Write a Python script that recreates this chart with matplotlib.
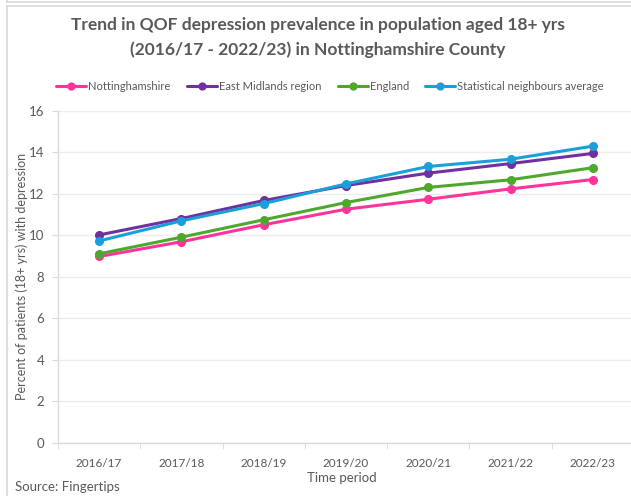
import matplotlib
matplotlib.use("Agg")
import matplotlib.pyplot as plt
from matplotlib.lines import Line2D

periods = ["2016/17", "2017/18", "2018/19", "2019/20", "2020/21", "2021/22", "2022/23"]
nottinghamshire = [8.97, 9.68, 10.50, 11.25, 11.73, 12.23, 12.68]
east_midlands = [10.01, 10.80, 11.67, 12.39, 12.99, 13.45, 13.94]
england = [9.10, 9.90, 10.74, 11.57, 12.30, 12.67, 13.25]
stat_neighbours = [9.72, 10.69, 11.52, 12.47, 13.31, 13.66, 14.29]

series_names = ["Nottinghamshire", "East Midlands region", "England",
                "Statistical neighbours average"]
series_values = [nottinghamshire, east_midlands, england, stat_neighbours]
series_colors = ["#FF3399", "#7030A0", "#4EA72E", "#1AA0D8"]

plt.rcParams["font.family"] = ["Lato", "DejaVu Sans"]
text_grey = "#595959"
light_grey = "#D9D9D9"

fig = plt.figure(figsize=(6.31, 4.96), dpi=100)

# outer chart frame lines
fig.add_artist(Line2D([7 / 631, 1], [1 - 2 / 496, 1 - 2 / 496], color=light_grey, lw=1.2))
fig.add_artist(Line2D([7 / 631, 7 / 631], [1, 1 - 2 / 496], color=light_grey, lw=1.2))
fig.add_artist(Line2D([7 / 631, 1], [1 - 6 / 496, 1 - 6 / 496], color=light_grey, lw=1.2))
fig.add_artist(Line2D([7 / 631, 7 / 631], [0, 1 - 6 / 496], color=light_grey, lw=1.2))

ax = fig.add_axes([58 / 631, 1 - 442.5 / 496, (634 - 58) / 631, (442.5 - 110.7) / 496])
ax.set_clip_on(False)

x = list(range(len(periods)))
for i, (name, vals, col) in enumerate(zip(series_names, series_values, series_colors)):
    ax.plot(x, vals, color=col, lw=2.2, marker="o", ms=5.5, label=name,
            zorder=3 + i, solid_capstyle="round")

ax.set_xlim(-0.5, 6.5)
ax.set_ylim(0, 16)
ax.set_yticks(range(0, 17, 2))
ax.set_xticks(x)
ax.set_xticklabels(periods)
ax.set_xticks([i + 0.5 for i in range(-1, 7)], minor=True)
ax.tick_params(axis="x", which="major", length=0, pad=11, labelsize=8.5, labelcolor=text_grey)
ax.tick_params(axis="x", which="minor", length=4, color=light_grey, direction="out")
ax.tick_params(axis="y", length=4, color=light_grey, labelsize=9.5, labelcolor=text_grey, pad=6)

ax.grid(axis="y", color="#EDEDED", lw=1.0)
ax.set_axisbelow(True)
for side in ["top", "right"]:
    ax.spines[side].set_visible(False)
for side in ["left", "bottom"]:
    ax.spines[side].set_color(light_grey)
    ax.spines[side].set_linewidth(1.0)

ax.set_ylabel("Percent of patients (18+ yrs) with depression", fontsize=9,
              color=text_grey)
ax.yaxis.set_label_coords(-30 / 576, 0.5)
fig.text(342 / 631, 1 - 478 / 496, "Time period", fontsize=9.5, color=text_grey,
         ha="center", va="center")
fig.text(15 / 631, 1 - 487 / 496, "Source: Fingertips", fontsize=9.5, color=text_grey,
         ha="left", va="center")

fig.text(318 / 631, 1 - 25 / 496, "Trend in QOF depression prevalence in population aged 18+ yrs",
         fontsize=12.5, fontweight="bold", color=text_grey, ha="center", va="center")
fig.text(318 / 631, 1 - 50 / 496, "(2016/17 - 2022/23) in Nottinghamshire County",
         fontsize=12.5, fontweight="bold", color=text_grey, ha="center", va="center")

leg = fig.legend(loc="center left", bbox_to_anchor=(52 / 631, 1 - 86 / 496), ncol=4,
                 frameon=False, fontsize=8, handlelength=2.7, handletextpad=0.15,
                 columnspacing=1.5, markerscale=0.9, borderaxespad=0)
for t in leg.get_texts():
    t.set_color(text_grey)

fig.savefig("out.png", dpi=100)
